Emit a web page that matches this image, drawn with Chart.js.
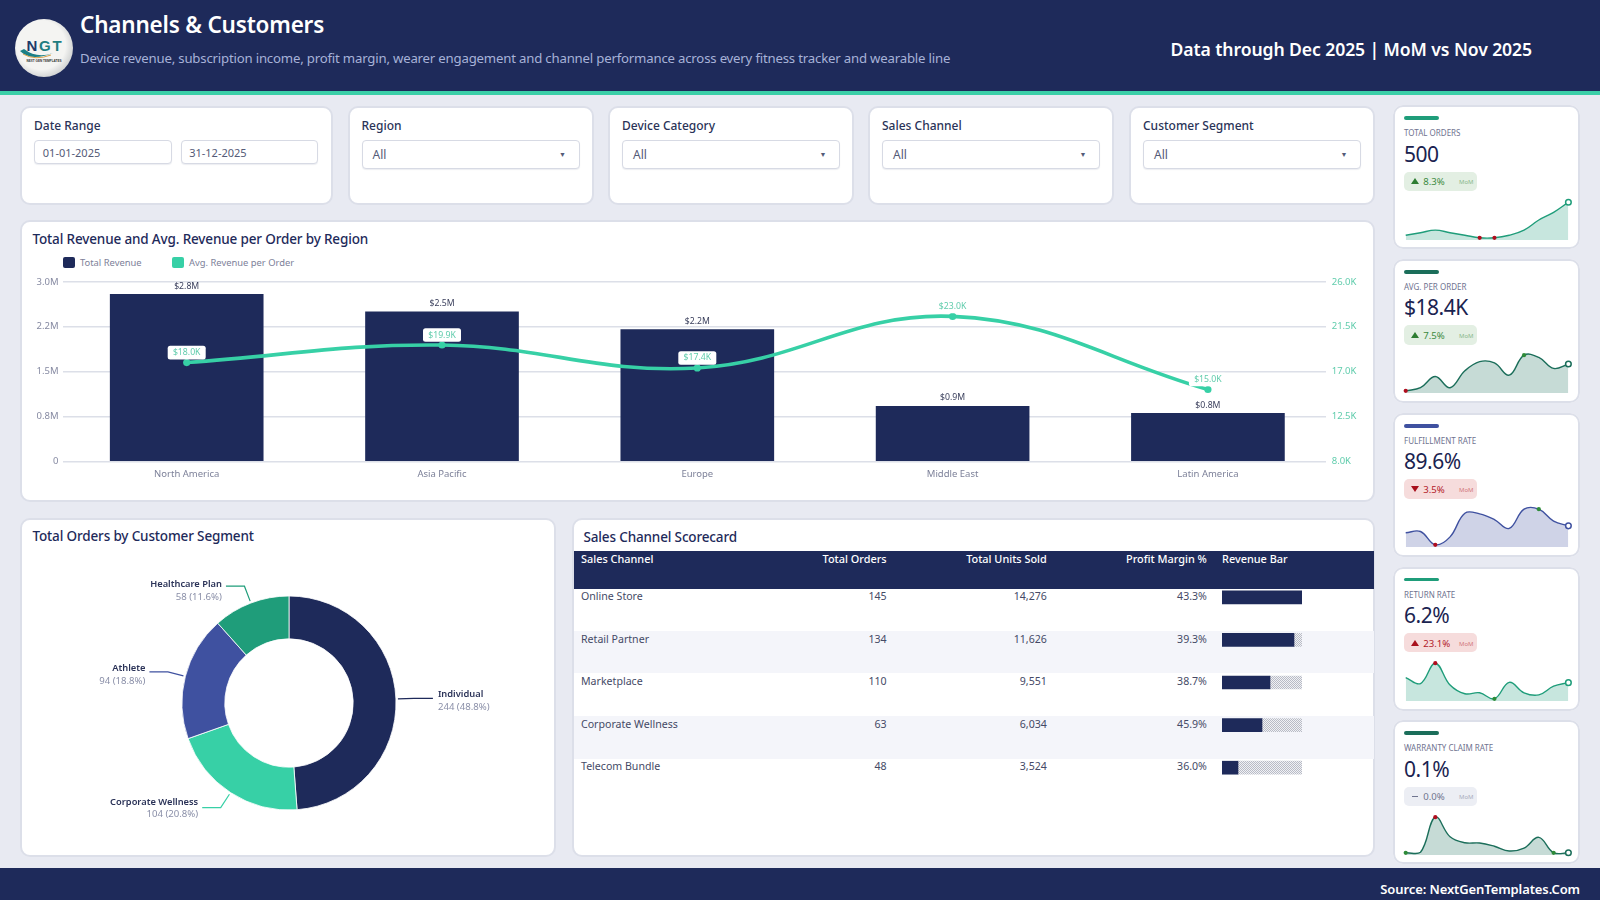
<!DOCTYPE html>
<html lang="en"><head><meta charset="utf-8"><title>Channels &amp; Customers</title>
<script src="https://cdn.jsdelivr.net/npm/chart.js@4"></script>
<style>
*{box-sizing:border-box}
html,body{margin:0;padding:0;width:1600px;height:900px;overflow:hidden;background:#e8eaf2;font-family:"Noto Sans",sans-serif;color:#1e2a5a}
.abs,.card,.t{position:absolute}
.card{background:#fff;border:2px solid #dcdfe9;border-radius:10px}
.t{white-space:nowrap;line-height:1}
.field{position:absolute;background:#fff;border:1.5px solid #d7dae4;border-radius:4px;box-shadow:0 1px 1px rgba(30,42,90,.08)}
canvas{position:absolute;display:block}
</style></head><body>
<div class="abs" style="left:0;top:0;width:1600px;height:91px;background:#1e2a5a"></div>
<div class="abs" style="left:0;top:91px;width:1600px;height:4px;background:#3bcfa8"></div>
<svg class="abs" style="left:15px;top:19px" width="58" height="58" viewBox="0 0 58 58">
<defs><radialGradient id="lg" cx=".45" cy=".45" r=".6"><stop offset=".7" stop-color="#f4f4f2"/><stop offset="1" stop-color="#c9cbcc"/></radialGradient></defs>
<circle cx="29" cy="29" r="29" fill="url(#lg)"/>
<path d="M5 32 Q16 43 38 34 Q22 40 9 30Z" fill="#1a7f86"/><path d="M8 35 Q20 42 36 36" stroke="#d8a24a" stroke-width="1" fill="none"/>
<text x="30" y="32" text-anchor="middle" font-family="Liberation Sans" font-weight="700" font-size="15" letter-spacing="1.8"><tspan fill="#1e3a6a">N</tspan><tspan fill="#1f7d80">GT</tspan></text>
<text x="29" y="43" text-anchor="middle" font-family="Liberation Sans" font-weight="700" font-size="3.1" fill="#333">NEXT GEN TEMPLATES</text>
</svg>
<div class="t" style="left:80px;top:12px;font-size:22.5px;letter-spacing:-.2px;font-weight:600;color:#fff;line-height:26px">Channels &amp; Customers</div>
<div class="t" style="left:80px;top:50px;font-size:13.2px;letter-spacing:-.19px;color:#a7b2d8;line-height:16px">Device revenue, subscription income, profit margin, wearer engagement and channel performance across every fitness tracker and wearable line</div>
<div class="t" style="right:68px;top:38px;font-size:17.6px;letter-spacing:-.1px;font-weight:600;color:#fff;line-height:22px">Data through Dec 2025 | MoM vs Nov 2025</div>
<div class="abs" style="left:0;top:868px;width:1600px;height:32px;background:#1e2a5a"></div>
<div class="t" style="right:20px;top:881px;font-size:13px;letter-spacing:-.1px;font-weight:600;color:#fff;line-height:16px">Source: NextGenTemplates.Com</div>
<div id="root"></div>
<script>
// ---------- data ----------
const regions = ['North America','Asia Pacific','Europe','Middle East','Latin America'];
const totalRevenue = [2.79,2.50,2.20,0.92,0.80];
const revenueLabels = ['$2.8M','$2.5M','$2.2M','$0.9M','$0.8M'];
const avgRevenue = [17.9,19.66,17.36,22.53,15.2];
const avgLabels = ['$18.0K','$19.9K','$17.4K','$23.0K','$15.0K'];
const leftTicks = ['0','0.8M','1.5M','2.2M','3.0M'];
const rightTicks = ['8.0K','12.5K','17.0K','21.5K','26.0K'];

const segments = ['Individual','Corporate Wellness','Athlete','Healthcare Plan'];
const segmentOrders = [244,104,94,58];
const segmentShare = ['48.8%','20.8%','18.8%','11.6%'];

const channels = ['Online Store','Retail Partner','Marketplace','Corporate Wellness','Telecom Bundle'];
const channelOrders = ['145','134','110','63','48'];
const channelUnits = ['14,276','11,626','9,551','6,034','3,524'];
const channelMargin = ['43.3%','39.3%','38.7%','45.9%','36.0%'];
const channelRevenueBar = [100,90,60,50,20];

const months = ['Jan','Feb','Mar','Apr','May','Jun','Jul','Aug','Sep','Oct','Nov','Dec'];
const sparkOrders = [39,40,41,40,39,38,38,39,41,45,48,52];
const sparkAvg = [10.5,11.4,14.7,11.4,16.4,19.1,18.7,15.1,21,20.35,17.1,18.4];
const sparkFulfil = [83.4,84.2,76,80.9,95.5,95.1,91.6,86.1,98,98,90.6,87.7];
const sparkReturn = [7.9,5.9,12.7,5.4,2.5,2.8,0.8,6.3,2.8,2.1,5.0,6.2];
const sparkWarranty = [0,0.01,0.6,0.27,0.17,0.165,0.11,0.03,0.08,0.26,0,0];

const kpiNames = ['TOTAL ORDERS','AVG. PER ORDER','FULFILLMENT RATE','RETURN RATE','WARRANTY CLAIM RATE'];
const kpiValues = ['500','$18.4K','89.6%','6.2%','0.1%'];
const kpiDeltas = ['8.3%','7.5%','3.5%','23.1%','0.0%'];
const kpiDirs = ['up','up','down','up','flat'];
const kpiTones = ['good','good','bad','bad','flat'];
const kpiSeries = [sparkOrders,sparkAvg,sparkFulfil,sparkReturn,sparkWarranty];
const kpiRedPts = [[5,6],[0],[2],[2],[2]];
const kpiGreenPts = [[],[8],[9],[6],[0,10]];

const filterNames = ['Region','Device Category','Sales Channel','Customer Segment'];
const dateRange = ['01-01-2025','31-12-2025'];

// ---------- style ----------
const NAVY='#1e2a5a',TEAL='#37d0a6',TEALTXT='#62cdad',BLUE='#3f51a0',GREEN='#1f9d7a',DKGREEN='#1b6e5a';
const FONT='"Noto Sans", sans-serif';
const sparkLine=[GREEN,DKGREEN,BLUE,GREEN,DKGREEN];
const sparkFill=['rgba(31,157,122,.25)','rgba(27,110,90,.25)','rgba(63,81,160,.25)','rgba(31,157,122,.25)','rgba(27,110,90,.25)'];
const tones={good:['#e3efe3','#3b8a3f','#2e7d32'],bad:['#f6dcdc','#b3202a','#a8101c'],flat:['#eceef4','#70758f','#70758f']};
const donutLabelShift=[1,-1,1,3];
Chart.defaults.font.family=FONT;Chart.defaults.animation=false;Chart.defaults.events=[];
Chart.defaults.plugins.legend.display=false;Chart.defaults.plugins.tooltip.enabled=false;

const root=document.getElementById('root');
function el(cls,css,html,parent){const d=document.createElement('div');d.className=cls;d.style.cssText=css;if(html!==undefined)d.textContent=html;(parent||root).appendChild(d);return d;}
function cv(parent,l,t,w,h){const c=document.createElement('canvas');c.width=w;c.height=h;c.style.cssText=`left:${l}px;top:${t}px;width:${w}px;height:${h}px`;(parent||root).appendChild(c);return c;}

// ---------- filters ----------
const lab='font-size:12px;font-weight:500;color:#2a3358;line-height:14px;';
el('card','left:19.5px;top:105.5px;width:313px;height:99px');
el('t',`left:34px;top:119px;${lab}`,'Date Range');
[[34.4,137.4],[180.8,137.7]].forEach((p,i)=>{
  el('field',`left:${p[0]}px;top:140px;width:${p[1]}px;height:24px`);
  el('t',`left:${p[0]+8.4}px;top:145.5px;font-size:11px;color:#555b78;line-height:13px`,dateRange[i]);
});
[348.5,609,869,1130].forEach((x,i)=>{
  el('card',`left:${x-1}px;top:105.5px;width:246px;height:99px`);
  el('t',`left:${x+13}px;top:119px;${lab}`,filterNames[i]);
  el('field',`left:${x+13}px;top:140px;width:218px;height:29px`);
  el('t',`left:${x+24}px;top:148px;font-size:12px;color:#555b78;line-height:14px`,'All');
  el('t',`left:${x+210.5}px;top:151px;font-size:7px;color:#555b78;line-height:8px`,'▼');
});

// ---------- combo chart ----------
const titleCss='font-size:13.5px;letter-spacing:-.15px;font-weight:500;color:#1e2a5a;line-height:16px;';
el('card','left:19.5px;top:219.5px;width:1355.5px;height:282px');
el('t',`left:32.5px;top:231px;${titleCss}`,'Total Revenue and Avg. Revenue per Order by Region');

const comboLabels={id:'comboLabels',afterDatasetsDraw(c){
  const x=c.ctx;x.save();x.textAlign='center';x.textBaseline='middle';
  x.font=`8.7px ${FONT}`;
  c.getDatasetMeta(0).data.forEach((b,i)=>{x.fillStyle='#3a3f5c';x.fillText(revenueLabels[i],b.x,b.y-8.3);});
  c.getDatasetMeta(1).data.forEach((p,i)=>{
    const w=38,h=13.6,cy=p.y-10;
    x.fillStyle='#fff';x.beginPath();x.roundRect(p.x-w/2,cy-h/2,w,h,2.5);x.fill();
    x.fillStyle=TEALTXT;x.fillText(avgLabels[i],p.x,cy);
  });
  x.restore();
}};
const comboDs=[
 {type:'bar',label:'Total Revenue',data:totalRevenue.map((v,i)=>({x:i,y:v})),backgroundColor:NAVY,barThickness:153,yAxisID:'y',order:2},
 {type:'line',label:'Avg. Revenue per Order',data:avgRevenue.map((v,i)=>({x:i,y:v})),borderColor:TEAL,backgroundColor:TEAL,borderWidth:3.6,tension:.4,pointRadius:3.6,pointBackgroundColor:TEAL,pointBorderWidth:0,yAxisID:'y1',order:1,clip:false}
];
new Chart(cv(root,20,270,1355,220),{data:{datasets:comboDs},plugins:[comboLabels],options:{responsive:false,
 layout:{padding:{left:0,right:0,top:11.8,bottom:0}},
 scales:{
  x:{type:'linear',offset:false,bounds:'data',min:-0.4845,max:4.4625,afterBuildTicks(s){s.ticks=regions.map((_,i)=>({value:i}));},grid:{display:false},border:{display:false},
     ticks:{autoSkip:false,maxRotation:0,padding:-1,color:'#7d8199',font:{size:9.5},callback:v=>regions[v]},afterFit(s){s.height=28.7;}},
  y:{position:'left',min:0,max:3,ticks:{stepSize:.75,padding:4.5,color:'#868aa2',font:{size:9.5},callback:(v,i)=>leftTicks[i]},
     grid:{color:'#dcdfe8',lineWidth:1.5,drawTicks:false},border:{display:false},afterFit(s){s.width=43;}},
  y1:{position:'right',min:8,max:26,ticks:{stepSize:4.5,padding:5.7,color:TEALTXT,font:{size:9.5},callback:(v,i)=>rightTicks[i]},
     grid:{display:false,drawTicks:false},border:{display:false},afterFit(s){s.width=49;}}
 }}});
// legend built from the chart's datasets
[[63.4,80],[172.4,189]].forEach((p,i)=>{
  el('abs',`left:${p[0]}px;top:256.7px;width:11.4px;height:11px;border-radius:2px;background:${comboDs[i].backgroundColor}`);
  el('t',`left:${p[1]}px;top:256px;font-size:9.4px;color:#7d8199;line-height:13px`,comboDs[i].label);
});

// ---------- donut ----------
el('card','left:19.5px;top:517.5px;width:536.5px;height:339px');
el('t',`left:32.5px;top:528px;${titleCss}`,'Total Orders by Customer Segment');
const donutColors=[NAVY,TEAL,BLUE,GREEN];
const donutLabels={id:'donutLabels',afterDatasetsDraw(c){
  const x=c.ctx;x.save();
  c.getDatasetMeta(0).data.forEach((a,i)=>{
    const m=(a.startAngle+a.endAngle)/2,r=a.outerRadius,cs=Math.cos(m),sn=Math.sin(m),right=cs>=0;
    const ex=a.x+(r+18)*cs,ey=a.y+(r+18)*sn,hx=ex+(right?19:-18.5);
    x.strokeStyle=donutColors[i];x.lineWidth=1.2;x.beginPath();x.moveTo(a.x+(r+2)*cs,a.y+(r+2)*sn);x.lineTo(ex,ey);x.lineTo(hx,ey);x.stroke();
    const tx=hx+(right?5:-4),dy=donutLabelShift[i];x.textAlign=right?'left':'right';x.textBaseline='middle';
    x.font=`600 9.3px ${FONT}`;x.fillStyle='#2b3358';x.fillText(segments[i],tx,ey-4.6+dy);
    x.font=`9.6px ${FONT}`;x.fillStyle='#8a8fa8';x.fillText(`${segmentOrders[i]} (${segmentShare[i]})`,tx,ey+7.9+dy);
  });
  x.restore();
}};
new Chart(cv(root,20,540,535,316),{type:'doughnut',data:{labels:segments,datasets:[{data:segmentOrders,backgroundColor:donutColors,borderColor:'#fff',borderWidth:.8}]},plugins:[donutLabels],
 options:{responsive:false,cutout:'60%',layout:{padding:{left:161.6,right:158.6,top:55.6,bottom:45.6}}}});

// ---------- table ----------
el('card','left:571.5px;top:517.5px;width:803.5px;height:339px');
el('t',`left:583.5px;top:528.5px;${titleCss}`,'Sales Channel Scorecard');
el('abs','left:574px;top:551px;width:800px;height:37.6px;background:#1e2a5a');
const hs='top:552px;font-size:10.9px;font-weight:500;color:#fff;line-height:13px;';
el('t',`left:581px;${hs}`,'Sales Channel');
el('t',`right:${1600-886.6}px;${hs}`,'Total Orders');
el('t',`right:${1600-1046.8}px;${hs}`,'Total Units Sold');
el('t',`right:${1600-1206.9}px;${hs}`,'Profit Margin %');
el('t',`left:1222px;${hs}`,'Revenue Bar');
channels.forEach((n,i)=>{
  const top=588.3+i*42.6,ty=top+1.7,s=`top:${ty}px;font-size:10.6px;color:#454a66;line-height:13px;`;
  if(i%2)el('abs',`left:574px;top:${top}px;width:800px;height:42.6px;background:#f4f5fa`);
  el('t',`left:581px;${s}`,n);
  el('t',`right:${1600-886.6}px;${s}`,channelOrders[i]);
  el('t',`right:${1600-1046.8}px;${s}`,channelUnits[i]);
  el('t',`right:${1600-1206.9}px;${s}`,channelMargin[i]);
});
const pc=document.createElement('canvas');pc.width=2;pc.height=2;const px=pc.getContext('2d');
px.fillStyle='#f0f1f4';px.fillRect(0,0,2,2);px.fillStyle='#b8bbc6';px.fillRect(0,0,1,1);px.fillRect(1,1,1,1);
const bc=cv(root,1222,575.9,80,213);
new Chart(bc,{type:'bar',data:{labels:channels,datasets:[
 {data:channelRevenueBar,backgroundColor:NAVY,barThickness:13,stack:'s'},
 {data:channelRevenueBar.map(v=>100-v),backgroundColor:bc.getContext('2d').createPattern(pc,'repeat'),barThickness:13,stack:'s'}]},
 options:{responsive:false,indexAxis:'y',layout:{padding:0},scales:{x:{display:false,stacked:true,min:0,max:100},y:{display:false,stacked:true}}}});

// ---------- KPI cards ----------
[105.7,259.3,413.3,567,720.7].forEach((top,i)=>{
  const [pb,pt,ar]=tones[kpiTones[i]];
  const c=el('card',`left:1393px;top:${top-.5}px;width:186.5px;height:144.3px;border:0;background:#fff`);
  el('abs','left:0;top:0;right:0;bottom:0;border:2px solid #dcdfe9;border-radius:10px',undefined,c);
  el('abs',`left:11px;top:11.1px;width:35px;height:3.8px;border-radius:2px;background:${sparkLine[i]}`,undefined,c);
  el('t','left:11px;top:23.1px;font-size:8px;color:#6f7390;line-height:10px',kpiNames[i],c);
  el('t','left:11px;top:36.5px;font-size:21px;letter-spacing:-.5px;font-weight:400;color:#1a2350;line-height:25px',kpiValues[i],c);
  const p=el('abs',`left:11px;top:66.5px;width:73px;height:19.3px;border-radius:5px;background:${pb}`,undefined,c);
  if(kpiDirs[i]==='flat') el('abs',`left:7.5px;top:9px;width:6px;height:1.5px;background:${ar}`,undefined,p);
  else el('abs',`left:6.8px;top:6.5px;width:0;height:0;border-left:4px solid transparent;border-right:4px solid transparent;${kpiDirs[i]==='up'?`border-bottom:6.4px solid ${ar}`:`border-top:6.4px solid ${ar}`}`,undefined,p);
  el('t',`left:19.3px;top:4.5px;font-size:9.6px;color:${pt};line-height:11px`,kpiDeltas[i],p);
  el('t',`right:3.5px;top:6.5px;font-size:6px;color:${pt};opacity:.55;line-height:8px`,'MoM',p);
  const d=kpiSeries[i],mn=Math.min(...d),mx=Math.max(...d),u=(mx-mn)/37.6;
  const last=d.length-1,col=k=>k===last?'#fff':kpiRedPts[i].includes(k)?'#b00d1e':kpiGreenPts[i].includes(k)?'#2e8b38':'transparent';
  new Chart(cv(c,.3,85.5,186,58),{type:'line',data:{labels:months,datasets:[{data:d,borderColor:sparkLine[i],borderWidth:1.4,tension:.4,fill:'start',backgroundColor:sparkFill[i],clip:false,
    pointRadius:ctx=>{const k=ctx.dataIndex;return k===last?2.8:(kpiRedPts[i].includes(k)||kpiGreenPts[i].includes(k))?2.1:0;},
    pointBackgroundColor:ctx=>col(ctx.dataIndex),
    pointBorderWidth:ctx=>ctx.dataIndex===last?1.5:0,pointBorderColor:sparkLine[i]}]},
   options:{responsive:false,layout:{padding:{left:12.7,right:10.6,top:3.3,bottom:9}},
    scales:{x:{display:false,offset:false},y:{display:false,min:mn-2.33*u,max:mx+6*u}}}});
});
</script>
</body></html>
